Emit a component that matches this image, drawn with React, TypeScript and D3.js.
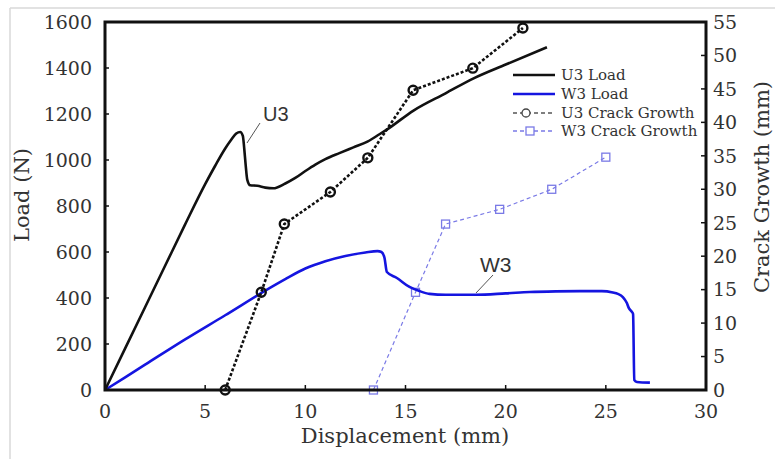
import React from "react";
import * as d3 from "d3";

const xTicks = [0, 5, 10, 15, 20, 25, 30];
const loadTicks = [0, 200, 400, 600, 800, 1000, 1200, 1400, 1600];
const crackTicks = [0, 5, 10, 15, 20, 25, 30, 35, 40, 45, 50, 55];

const u3Disp = [0, 1, 2, 3, 4, 5, 5.5, 6.0, 6.3, 6.55, 6.75, 6.88, 6.95, 7.02, 7.1, 7.25, 7.6, 8.0, 8.4, 9.0, 9.5, 10.0, 10.5, 11.0, 11.7, 12.4, 13.1, 13.7, 14.2, 15.4, 17, 18.4, 20, 22.06];
const u3Load = [0, 180, 360, 540, 720, 895, 975, 1050, 1088, 1115, 1122, 1105, 1050, 980, 915, 890, 888, 880, 877, 898, 922, 952, 980, 1004, 1030, 1055, 1080, 1112, 1140, 1215, 1290, 1355, 1415, 1490];

const w3Disp = [0, 2, 4, 6, 8, 9, 10, 11, 12, 13, 13.6, 13.8, 13.95, 14.07, 14.57, 15.2, 15.7, 16.2, 17, 18.5, 20, 21.2, 22.5, 23.7, 24.8, 25.35, 25.6, 25.85, 26.05, 26.15, 26.3, 26.36, 26.42, 26.55, 27.2];
const w3Load = [0, 110, 220, 325, 432, 482, 528, 560, 583, 598, 604, 600, 575, 513, 487, 448, 430, 418, 414, 414, 420, 426, 429, 430, 430, 424, 418, 404, 378, 356, 340, 330, 43, 35, 32];

const u3CrackDisp = [6.0, 7.8, 8.95, 11.25, 13.12, 15.38, 18.36, 20.86];
const u3Crack = [0, 14.6, 24.8, 29.6, 34.7, 44.8, 48.1, 54.1];

const w3CrackDisp = [13.4, 15.5, 17.0, 19.7, 22.3, 25.0];
const w3Crack = [0, 14.6, 24.8, 27.0, 30.0, 34.8];

const legendLabels = ["U3 Load", "W3 Load", "U3 Crack Growth", "W3 Crack Growth"];

const W = 775;
const H = 459;
const L = 105, R = 706, T = 22, B = 390;

const serif = "'DejaVu Serif', serif";
const sans = "'Liberation Sans', Arial, sans-serif";
const textCol = "#333";
const blue = "#1515e0";
const lightBlue = "#7a7ae6";

export default function App() {
  const x = d3.scaleLinear().domain([0, 30]).range([L, R]);
  const yL = d3.scaleLinear().domain([0, 1600]).range([B, T]);
  const yC = d3.scaleLinear().domain([0, 55]).range([B, T]);

  const mk = (xs: number[], ys: number[], ys2: d3.ScaleLinear<number, number>, curve: any) =>
    d3
      .line<number>()
      .x((d) => x(d))
      .y((_, i) => ys2(ys[i]))
      .curve(curve)(xs) || "";

  const u3Path = mk(u3Disp, u3Load, yL, d3.curveMonotoneX);
  const w3Path = mk(w3Disp, w3Load, yL, d3.curveMonotoneX);
  const u3CPath = mk(u3CrackDisp, u3Crack, yC, d3.curveLinear);
  const w3CPath = mk(w3CrackDisp, w3Crack, yC, d3.curveLinear);

  const legY = [75, 94, 113, 131];

  return (
    <svg
      width={W}
      height={H}
      style={{ position: "absolute", left: 0, top: 0, background: "#fff" }}
    >
      <rect x={0} y={0} width={W} height={H} fill="#fff" />
      <line x1={10} y1={8} x2={W} y2={8} stroke="#d8d8d8" strokeWidth={1.5} />
      <line x1={10} y1={8} x2={10} y2={H} stroke="#d8d8d8" strokeWidth={1.5} />

      <path d={w3CPath} fill="none" stroke={lightBlue} strokeWidth={1.2} strokeDasharray="4,3" />
      {w3CrackDisp.map((d, i) => (
        <rect
          key={"ws" + i}
          x={x(d) - 4}
          y={yC(w3Crack[i]) - 4}
          width={8}
          height={8}
          fill="none"
          stroke={lightBlue}
          strokeWidth={1.3}
        />
      ))}
      <path d={w3Path} fill="none" stroke={blue} strokeWidth={2.6} strokeLinejoin="round" />
      <path d={u3Path} fill="none" stroke="#111" strokeWidth={2.6} strokeLinejoin="round" />
      <path d={u3CPath} fill="none" stroke="#111" strokeWidth={2.6} strokeDasharray="3,2" />
      {u3CrackDisp.map((d, i) => (
        <circle
          key={"uc" + i}
          cx={x(d)}
          cy={yC(u3Crack[i])}
          r={4.5}
          fill="none"
          stroke="#111"
          strokeWidth={2.4}
        />
      ))}

      <rect x={L} y={T} width={R - L} height={B - T} fill="none" stroke="#111" strokeWidth={3} />

      {loadTicks.map((t) => (
        <g key={"lt" + t}>
          <line x1={L} x2={L + 4} y1={yL(t)} y2={yL(t)} stroke="#111" strokeWidth={1.5} />
          <text x={92} y={yL(t)} dy="0.36em" textAnchor="end" fontFamily={serif} fontSize={19} fill={textCol}>
            {t}
          </text>
        </g>
      ))}
      {xTicks.map((t) => (
        <g key={"xt" + t}>
          <line x1={x(t)} x2={x(t)} y1={B} y2={B - 5} stroke="#111" strokeWidth={1.5} />
          <text x={x(t)} y={418} textAnchor="middle" fontFamily={serif} fontSize={19} fill={textCol}>
            {t}
          </text>
        </g>
      ))}
      {crackTicks.map((t) => (
        <g key={"rt" + t}>
          <line x1={R} x2={R - 5} y1={yC(t)} y2={yC(t)} stroke="#111" strokeWidth={1.5} />
          <text x={713} y={yC(t)} dy="0.36em" textAnchor="start" fontFamily={serif} fontSize={19} fill={textCol}>
            {t}
          </text>
        </g>
      ))}

      <text x={405} y={443} textAnchor="middle" fontFamily={serif} fontSize={21} fill={textCol}>
        Displacement (mm)
      </text>
      <text transform="translate(29,195) rotate(-90)" textAnchor="middle" fontFamily={serif} fontSize={21} fill={textCol}>
        Load (N)
      </text>
      <text transform="translate(769,187) rotate(-90)" textAnchor="middle" fontFamily={serif} fontSize={21} fill={textCol}>
        Crack Growth (mm)
      </text>

      <line x1={260} y1={123} x2={247} y2={143} stroke="#555" strokeWidth={1} />
      <text x={263} y={121} fontFamily={sans} fontSize={20} fill={textCol}>
        U3
      </text>
      <line x1={493} y1={275} x2={476} y2={293} stroke="#555" strokeWidth={1} />
      <text x={480} y={272} fontFamily={sans} fontSize={21} fill={textCol}>
        W3
      </text>

      <line x1={513} x2={555} y1={legY[0]} y2={legY[0]} stroke="#111" strokeWidth={2.6} />
      <line x1={513} x2={555} y1={legY[1]} y2={legY[1]} stroke={blue} strokeWidth={2.6} />
      <line x1={513} x2={552} y1={legY[2]} y2={legY[2]} stroke="#555" strokeWidth={1.3} strokeDasharray="4,3" />
      <circle cx={526} cy={legY[2]} r={4} fill="#fff" stroke="#444" strokeWidth={1.3} />
      <line x1={513} x2={552} y1={legY[3]} y2={legY[3]} stroke={lightBlue} strokeWidth={1.3} strokeDasharray="4,3" />
      <rect x={526} y={legY[3] - 4} width={8} height={8} fill="#fff" stroke={lightBlue} strokeWidth={1.3} />
      {legendLabels.map((l, i) => (
        <text key={l} x={561} y={legY[i]} dy="0.36em" fontFamily={serif} fontSize={15} fill={textCol}>
          {l}
        </text>
      ))}
    </svg>
  );
}
